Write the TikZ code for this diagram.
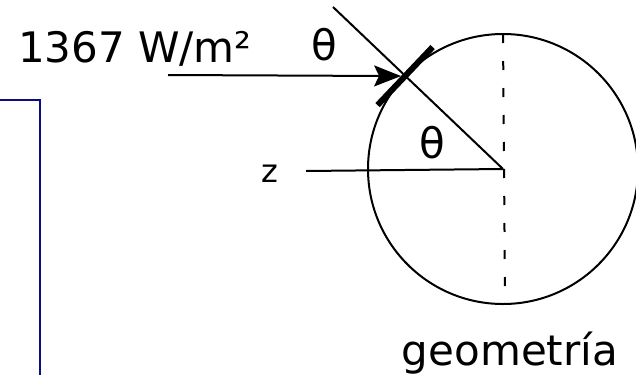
\documentclass[tikz,border=0pt]{standalone}
\usepackage{fontspec}
\setmainfont{DejaVu Sans}
\usetikzlibrary{arrows.meta, calc}
\definecolor{frameblue}{RGB}{12,12,128}

\begin{document}
\begin{tikzpicture}[x=1pt,y=-1pt,>={Stealth[length=27,width=21,inset=5]},line width=2,
    lbl/.style={inner sep=0,font=\fontsize{42}{50}\selectfont},
    small/.style={inner sep=0,font=\fontsize{32}{38}\selectfont}]
    \useasboundingbox (0,0) rectangle (636,375);

    \node[draw, circle, minimum size=270, inner sep=0] (earth) at (503,169) {};
    \coordinate (c) at (503,169);
    \coordinate (hit) at ($(c)+(223.5:135)$);
    \coordinate (ray) at (333,7);
    \coordinate (sun) at (168,75);
    \coordinate (zline) at (306,171);
    \coordinate (axistop) at (503,34);
    \coordinate (axisbot) at (505,297);

    \node[lbl, anchor=base west] (flux) at (17,62) {1367 W/m²};
    \node[lbl, anchor=base] (th1) at (324,60) {θ};
    \node[lbl, anchor=base] (th2) at (432,158) {θ};
    \node[small, anchor=base] (z) at (270,182) {z};
    \node[lbl, anchor=base] (geo) at (510,365) {geometría};

    \draw (ray) -- (c);
    \draw (zline) -- (c);
    \draw[dash pattern=on 9 off 18] (axistop) -- (axisbot);
    \draw[->, shorten >=4] (sun) -- (hit);
    \draw[line width=6] ($(hit)+(133.5:40)$) -- ($(hit)+(-46.5:40)$);

    \draw[frameblue] (0,100) -- (40,100) -- (40,375);
\end{tikzpicture}
\end{document}
